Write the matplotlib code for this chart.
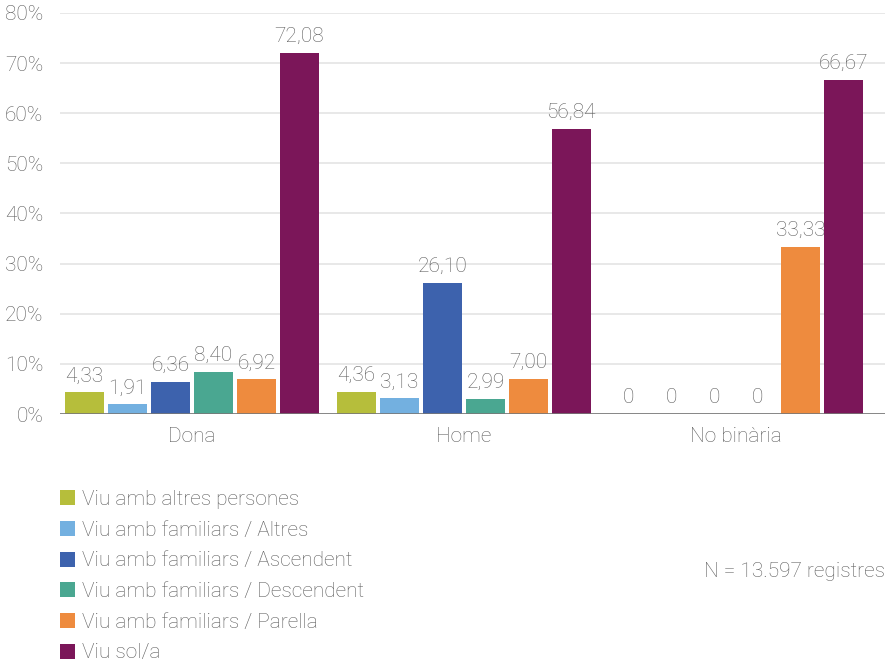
import matplotlib
matplotlib.use('Agg')
import matplotlib.pyplot as plt
from matplotlib.patches import Patch

import numpy


# Percentages per gender and living situation
GENDERS = ['Dona', 'Home', 'No binària']
SITUATIONS = [
    'Viu amb altres persones',
    'Viu amb familiars / Altres',
    'Viu amb familiars / Ascendent',
    'Viu amb familiars / Descendent',
    'Viu amb familiars / Parella',
    'Viu sol/a',
]
VALUES = [
    [4.33, 4.36, 0],      # altres persones
    [1.91, 3.13, 0],      # familiars / altres
    [6.36, 26.10, 0],     # familiars / ascendent
    [8.40, 2.99, 0],      # familiars / descendent
    [6.92, 7.00, 33.33],  # familiars / parella
    [72.08, 56.84, 66.67],  # sol/a
]
COLORS = ['#b6be3b', '#73b0e0', '#3d62ad', '#4aa791', '#ee8b3e', '#7b1659']
Y_TICKS = [0, 10, 20, 30, 40, 50, 60, 70, 80]
NOTE = 'N = 13.597 registres'

TEXT_COLOR = '#5c5c5c'
FONT_SIZE = 15
plt.rcParams['font.family'] = ['Roboto', 'DejaVu Sans']
plt.rcParams['font.weight'] = 'light'


def fmt(v):
    if v == 0:
        return '0'
    return ('%.2f' % v).replace('.', ',')


fig = plt.figure(figsize=(8.9, 6.65), dpi=100)
ax = fig.add_axes([0.0674, 0.3774, 0.927, 0.6031])

x = numpy.arange(len(GENDERS))
step = 0.158
width = 0.143

for i, (vals, color) in enumerate(zip(VALUES, COLORS)):
    pos = x + (i - 2.5) * step
    ax.bar(pos, vals, width=width, color=color, zorder=3)
    for px, v in zip(pos, vals):
        ax.annotate(fmt(v), (px, v), xytext=(0, 5), textcoords='offset points',
                    ha='center', va='bottom', fontsize=FONT_SIZE, color=TEXT_COLOR)

ax.set_xlim(-0.485, 2.548)
ax.set_ylim(0, 80)
ax.set_yticks(Y_TICKS)
ax.set_yticklabels(['%d%%' % t for t in Y_TICKS])
ax.set_xticks(x)
ax.set_xticklabels(GENDERS)
ax.tick_params(axis='y', length=0, pad=12, labelsize=FONT_SIZE, labelcolor=TEXT_COLOR)
ax.tick_params(axis='x', length=0, pad=9, labelsize=FONT_SIZE, labelcolor=TEXT_COLOR)

ax.grid(axis='y', color='#e4e4e4', linewidth=1.2, zorder=0)
for side in ['top', 'right', 'left', 'bottom']:
    ax.spines[side].set_visible(False)
ax.axhline(0, color='#777777', linewidth=1.2, zorder=4)

handles = [Patch(facecolor=c, edgecolor='none') for c in COLORS]
fig.legend(handles, SITUATIONS, loc='upper left', bbox_to_anchor=(0.067, 0.263),
           frameon=False, fontsize=FONT_SIZE, labelcolor=TEXT_COLOR,
           handlelength=0.75, handleheight=0.75, handletextpad=0.3,
           labelspacing=0.56, borderaxespad=0, borderpad=0)

fig.text(0.994, 0.141, NOTE, ha='right', va='center', fontsize=FONT_SIZE, color=TEXT_COLOR)

fig.savefig('out.png', dpi=100)
